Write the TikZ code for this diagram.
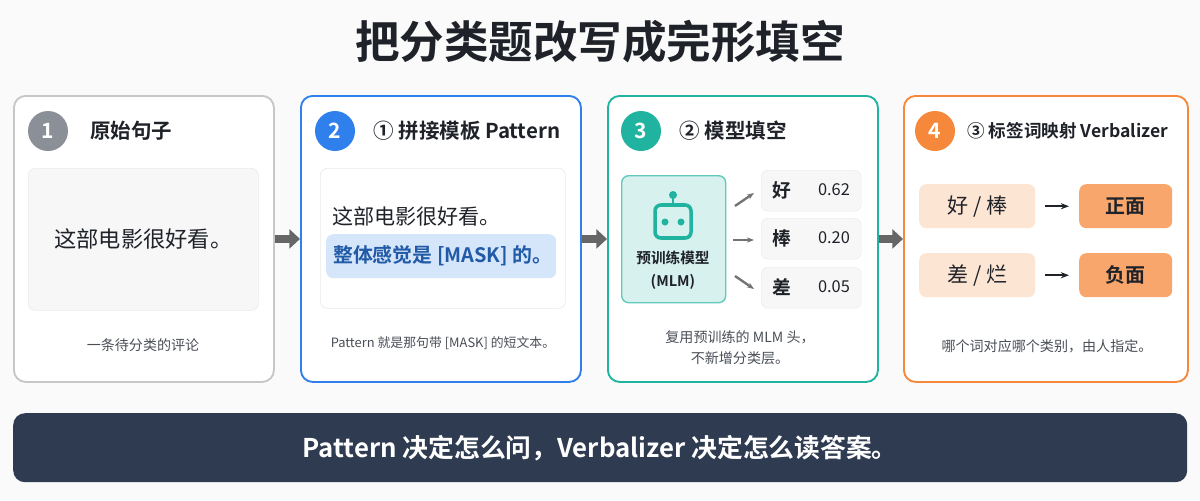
\documentclass[tikz,border=0pt]{standalone}
\usepackage{fontspec}
\setmainfont{Noto Sans CJK SC}[BoldFont={Noto Sans CJK SC Bold}]
\usetikzlibrary{positioning,arrows.meta}
\definecolor{grayc}{HTML}{8A8F98}
\definecolor{bluec}{HTML}{2F80ED}
\definecolor{tealc}{HTML}{1FB3A0}
\definecolor{orangec}{HTML}{F5883A}
\definecolor{navy}{HTML}{2E3B50}
\definecolor{textc}{HTML}{1F2329}
\definecolor{capc}{HTML}{4A4F57}
\begin{document}
\begin{tikzpicture}[x=0.03cm,y=-0.03cm,text=textc]
        \tikzstyle{panel}=[draw, rounded corners=10pt, line width=1.6pt, fill=white, anchor=north west, inner sep=0pt]
        \tikzstyle{num}=[circle, minimum size=40*0.03cm, inner sep=0pt, text=white, font=\fontsize{18}{18}\selectfont\bfseries]
        \tikzstyle{ptitle}=[anchor=west, font=\fontsize{17.5}{17.5}\selectfont\bfseries]
        \tikzstyle{inner}=[draw=black!8, rounded corners=6pt, line width=0.6pt, anchor=north west, inner sep=0pt]
        \tikzstyle{caption}=[text=capc, font=\fontsize{12}{12}\selectfont]
        \tikzstyle{flow}=[draw=black!60, line width=7pt, -{Triangle[length=9pt,width=16pt]}]
        \tikzstyle{tip}=[draw=black!55, line width=2pt, -{Stealth[length=6pt]}]
        \tikzstyle{word}=[rounded corners=6pt, inner sep=0pt, anchor=north west]

        % Background and title
        \useasboundingbox[fill=black!2] (0,0) rectangle (1200,500);
        \node[font=\fontsize{38}{38}\selectfont\bfseries] (title) at (600,42) {把分类题改写成完形填空};

        % Panels
        \foreach \name/\x/\w/\col in {P1/13/260/black!22, P2/300/280/bluec, P3/607/270/tealc, P4/903/284/orangec}
            \node[panel, draw=\col, minimum width=\w*0.03cm, minimum height=286*0.03cm] (\name) at (\x,95) {};

        % Step numbers and headings
        \foreach \name/\x/\col/\n in {N1/48/grayc/1, N2/335/bluec/2, N3/641/tealc/3, N4/935/orangec/4}
            \node[num, fill=\col] (\name) at (\x,131) {\n};
        \node[ptitle, right=18*0.03cm of N1] {原始句子};
        \node[ptitle, right=14*0.03cm of N2] {① 拼接模板 Pattern};
        \node[ptitle, right=14*0.03cm of N3] {② 模型填空};
        \node[ptitle, right=8*0.03cm of N4, font=\fontsize{15}{15}\selectfont\bfseries] {③ 标签词映射 Verbalizer};

        % Panel 1: original sentence
        \node[inner, fill=black!3, minimum width=230*0.03cm, minimum height=142*0.03cm] (S1) at (28,168) {};
        \node[font=\fontsize{19}{19}\selectfont] at (S1.center) {这部电影很好看。};
        \node[caption] at (143,345) {一条待分类的评论};

        % Panel 2: pattern
        \node[inner, fill=white, minimum width=245*0.03cm, minimum height=140*0.03cm] (S2) at (320,168) {};
        \node[anchor=west, font=\fontsize{18}{18}\selectfont] at (328,216) {这部电影很好看。};
        \node[word, fill=bluec!20, minimum width=230*0.03cm, minimum height=44*0.03cm] (mask) at (326,234) {};
        \node[anchor=west, text=bluec!70!black, font=\fontsize{17}{17}\selectfont\bfseries] at (329,256) {整体感觉是 [MASK] 的。};
        \node[caption, font=\fontsize{11}{11}\selectfont] at (443,343) {Pattern 就是那句带 [MASK] 的短文本。};

        % Panel 3: masked language model
        \node[word, draw=tealc!70, line width=1.2pt, fill=tealc!18, minimum width=104*0.03cm, minimum height=127*0.03cm] (MLM) at (621,175) {};
        \draw[tealc, line width=3pt, rounded corners=5pt] (655,205) rectangle (691,238);
        \draw[tealc, line width=2.5pt] (673,205) -- (673,197);
        \fill[tealc] (673,195) circle (4) (665,222) circle (3.5) (681,222) circle (3.5);
        \node[font=\fontsize{12.5}{12.5}\selectfont\bfseries] at (673,258) {预训练模型};
        \node[font=\fontsize{12.5}{12.5}\selectfont\bfseries] at (673,282) {(MLM)};
        \foreach \name/\y/\c/\p in {W1/170/好/0.62, W2/218/棒/0.20, W3/267/差/0.05} {
            \node[word, draw=black!8, fill=black!3, minimum width=100*0.03cm, minimum height=41*0.03cm] (\name) at (761,\y) {};
            \node[font=\fontsize{16}{16}\selectfont\bfseries] at (782,\y+20) {\c};
            \node[font=\fontsize{14}{14}\selectfont] at (834,\y+20) {\p};
        }
        \coordinate (a1) at (735,206); \coordinate (b1) at (754,193);
        \coordinate (a2) at (733,240); \coordinate (b2) at (754,240);
        \coordinate (a3) at (735,276); \coordinate (b3) at (754,289);
        \foreach \i in {1,2,3}
            \draw[tip] (a\i) -- (b\i);
        \node[caption] at (740,337) {复用预训练的 MLM 头，};
        \node[caption] at (740,358) {不新增分类层。};

        % Panel 4: verbalizer
        \foreach \name/\y/\w/\l in {V1/184/{好 / 棒}/正面, V2/253/{差 / 烂}/负面} {
            \node[word, fill=orangec!22, minimum width=116*0.03cm, minimum height=44*0.03cm] (\name) at (919,\y) {};
            \node[font=\fontsize{18}{18}\selectfont] at (\name.center) {\w};
            \node[word, fill=orangec!75, minimum width=93*0.03cm, minimum height=44*0.03cm] (\name L) at (1079,\y) {};
            \node[font=\fontsize{17}{17}\selectfont\bfseries] at (\name L.center) {\l};
            \draw[draw=textc, line width=1.4pt, -{Stealth[length=7pt]}] ([xshift=10*0.03cm]\name.east) -- ([xshift=-10*0.03cm]\name L.west);
        }
        \node[caption] at (1047,346) {哪个词对应哪个类别，由人指定。};

        % Arrows between panels
        \draw[flow] (P1.east) -- (P2.west);
        \draw[flow] (P2.east) -- (P3.west);
        \draw[flow] (P3.east) -- (P4.west);

        % Bottom summary bar
        \node[anchor=north west, fill=navy, rounded corners=10pt, minimum width=1174*0.03cm, minimum height=69*0.03cm, inner sep=0pt] (bar) at (13,413) {};
        \node[text=white, font=\fontsize{22}{22}\selectfont\bfseries] at (bar.center) {Pattern 决定怎么问，Verbalizer 决定怎么读答案。};
\end{tikzpicture}
\end{document}
